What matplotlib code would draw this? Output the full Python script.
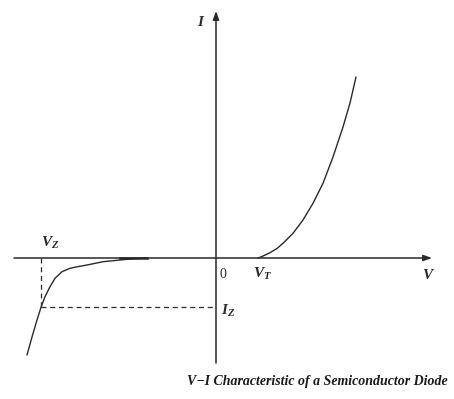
import matplotlib
matplotlib.use("Agg")
import matplotlib.pyplot as plt

# forward-bias branch (arbitrary units: V, I)
fwd_v = [4.2, 4.6, 5.4, 6.1, 6.7, 7.7, 8.7, 9.7, 10.7, 11.7, 12.7, 13.4, 14.0]
fwd_i = [0.0, 0.15, 0.53, 0.95, 1.47, 2.47, 3.8, 5.47, 7.47, 10.1, 13.1, 15.5, 18.1]

# reverse-bias branch, breakdown near Vz
rev_v = [-6.9, -8.3, -9.6, -11.3, -12.9, -14.0, -14.6, -15.4, -16.1, -16.6,
         -17.1, -17.5, -17.9, -18.4, -18.9]
rev_i = [0.0, -0.08, -0.2, -0.37, -0.7, -0.9, -1.03, -1.37, -2.03, -2.87,
         -3.87, -4.93, -6.2, -7.9, -9.7]

v_z = -17.5
i_z = -4.93
v_t = 4.2

plt.rcParams["mathtext.fontset"] = "custom"
plt.rcParams["mathtext.it"] = "Liberation Serif:italic:bold"
plt.rcParams["mathtext.rm"] = "Liberation Serif:bold"
plt.rcParams["font.family"] = ["Liberation Serif", "DejaVu Serif"]

fig = plt.figure(figsize=(4.54, 3.99), dpi=100, facecolor="white")
ax = fig.add_axes([0, 0, 1, 1])
ax.set_xlim(-21.6, 23.8)
ax.set_ylim(-14.1, 25.8)
ax.set_axis_off()

ink = "#2a2a2a"

# axes with arrows
ax.annotate("", xy=(21.6, 0), xytext=(-20.2, 0),
            arrowprops=dict(arrowstyle="-|>,head_length=0.5,head_width=0.18",
                            color=ink, lw=1.1, shrinkA=0, shrinkB=0))
ax.annotate("", xy=(0, 24.7), xytext=(0, -10.5),
            arrowprops=dict(arrowstyle="-|>,head_length=0.5,head_width=0.18",
                            color=ink, lw=1.1, shrinkA=0, shrinkB=0))

ax.plot(fwd_v, fwd_i, color=ink, lw=1.0, solid_capstyle="round",
        solid_joinstyle="round")
ax.plot(rev_v, rev_i, color=ink, lw=1.0, solid_capstyle="round",
        solid_joinstyle="round")
ax.plot([rev_v[0], rev_v[2]], [0, 0], color=ink, lw=1.8)

# breakdown guides
ax.plot([v_z, v_z], [0, i_z], color=ink, lw=0.9, ls=(0, (4, 3)))
ax.plot([v_z, 0], [i_z, i_z], color=ink, lw=0.9, ls=(0, (4, 3)))

lab = dict(color=ink, fontsize=11, ha="center", va="center")
ax.text(-1.5, 23.6, "$I$", **lab)
ax.text(21.3, -1.7, "$V$", **lab)
ax.text(0.7, -1.6, "0", color=ink, fontsize=10, ha="center", va="center")
ax.text(v_t + 0.5, -1.6, "$V_T$", **lab)
ax.text(-16.6, 1.5, "$V_Z$", **lab)
ax.text(1.2, -5.3, "$I_Z$", **lab)

ax.text(10.1, -12.4, "V\u2212I Characteristic of a Semiconductor Diode",
        color="#1a1a1a", fontsize=10, fontweight="bold", fontstyle="italic",
        ha="center", va="center")

fig.savefig("out.png", dpi=100, facecolor="white")
